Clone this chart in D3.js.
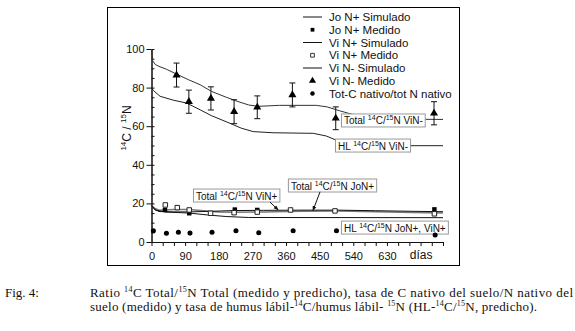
<!DOCTYPE html>
<html>
<head>
<meta charset="utf-8">
<script src="https://cdn.jsdelivr.net/npm/d3@7"></script>
<style>
  body { margin: 0; background: #fff; }
  svg { display: block; }
</style>
</head>
<body>
<script>
// data
const legendNames = ["Jo N+ Simulado", "Jo N+ Medido", "Vi N+ Simulado", "Vi N+ Medido", "Vi N- Simulado", "Vi N- Medido", "Tot-C nativo/tot N nativo"];
const xTickValues = [0, 90, 180, 270, 360, 450, 540, 630, 720];
const xTickLabels = ["0", "90", "180", "270", "360", "450", "540", "630", "días"];
const yTickValues = [0, 20, 40, 60, 80, 100];

// Vi N- simulated total and HL
const viNmSimDays = [0, 3, 10, 20, 40, 67, 100, 130, 161, 200, 228, 260, 285, 343, 441, 470, 503, 540, 592, 650, 780];
const viNmSimVals = [100, 94, 92, 91, 89.5, 87, 84, 81.5, 78, 75, 73, 71, 70.3, 70.8, 70.8, 70, 68, 66, 64, 63.7, 63.5];
const hlViNmDays = [0, 5, 23, 58, 94, 130, 160, 210, 240, 272, 325, 433, 468, 504, 530, 560, 780];
const hlViNmVals = [80, 78.5, 75.5, 73.5, 72, 68.5, 65.5, 61.5, 59, 57.2, 56.6, 56.3, 54.9, 52, 50.3, 49.9, 49.9];

// N+ simulated
const joNpSimDays = [0, 8, 20, 60, 100, 160, 220, 300, 400, 500, 600, 700, 780];
const joNpSimVals = [19, 17, 15.8, 15.6, 15.6, 15.9, 16.3, 16.4, 16.5, 16.5, 16.2, 15.9, 15.7];
const viNpSimDays = [0, 8, 20, 60, 100, 140, 180, 220, 300, 400, 500, 600, 700, 780];
const viNpSimVals = [19, 17.5, 16.5, 16.8, 16.8, 16.2, 15.5, 15.4, 15.6, 15.9, 16, 15.7, 15.3, 15];
const hlNpDays = [0, 10, 40, 100, 150, 200, 260, 780];
const hlNpVals = [19, 16.5, 15.5, 15, 14, 13.2, 12.7, 12.6];

// measured
const viNmMedDays = [67, 100, 159, 221, 283, 377, 493, 756];
const viNmMedVals = [86.5, 72.7, 74.4, 67.5, 69.8, 76.2, 64.1, 66.7];
const viNmMedErr = [6.2, 6, 6, 6.2, 5.9, 6.2, 5.9, 6];
const joNpMedDays = [36, 101, 223, 283, 757];
const joNpMedVals = [16.6, 14.9, 16.8, 16.6, 16.9];
const viNpMedDays = [37, 69, 101, 158, 221, 283, 372, 491, 757];
const viNpMedVals = [19.2, 17.8, 16.6, 14.9, 15.2, 15.5, 16.6, 16.1, 14.6];
const nativoDays = [5, 40, 72, 103, 162, 226, 287, 379, 495, 759];
const nativoVals = [5.8, 4.5, 5.0, 4.6, 5.0, 5.8, 4.8, 5.8, 5.8, 3.6];

const W = 575, H = 331;
const sans = "'Liberation Sans', Arial, sans-serif";
const serif = "'Liberation Serif', 'Times New Roman', serif";

const svg = d3.select("body").append("svg")
  .attr("width", W)
  .attr("height", H);

const x = d3.scaleLinear().domain([0, 780]).range([151.5, 443]);
const y = d3.scaleLinear().domain([0, 100]).range([242, 49]);

// text with superscripts: parts starting with "^" are raised
function rich(sel, parts, supSize, rise) {
  let up = false;
  parts.forEach(p => {
    const sup = p.startsWith("^");
    const t = sel.append("tspan").text(sup ? p.slice(1) : p);
    if (sup) {
      t.attr("font-size", supSize);
      if (!up) t.attr("dy", -rise);
      up = true;
    } else {
      if (up) t.attr("dy", rise);
      up = false;
    }
  });
  return sel;
}

// outer frame
svg.append("rect")
  .attr("x", 107.5).attr("y", 7.5)
  .attr("width", 352).attr("height", 258)
  .attr("fill", "none").attr("stroke", "#000");

// axes
const yAxis = d3.axisLeft(y).tickValues(yTickValues).tickSize(5).tickSizeOuter(0).tickPadding(2);
const yMinor = d3.axisLeft(y).tickValues(d3.range(0, 101, 5)).tickSize(-3).tickSizeOuter(0).tickFormat("");
const xAxis = d3.axisBottom(x).tickValues(d3.range(0, 781, 30)).tickSize(4).tickSizeOuter(0).tickPadding(6)
  .tickFormat(d => { const i = xTickValues.indexOf(d); return i < 0 ? "" : xTickLabels[i]; });

const gy = svg.append("g").attr("transform", `translate(${x(0)},0)`).call(yAxis);
svg.append("g").attr("transform", `translate(${x(0)},0)`).call(yMinor);
const gx = svg.append("g").attr("transform", `translate(0,${y(0)})`).call(xAxis);
[gy, gx].forEach(g => g.selectAll("text").attr("font-family", sans).attr("font-size", 11).attr("fill", "#111"));
gx.selectAll("text").filter(d => d === 720).attr("font-size", 12).attr("dy", "0.6em");
svg.selectAll(".domain, .tick line").attr("stroke", "#111");

// y label
rich(svg.append("text")
  .attr("transform", "translate(131,128) rotate(-90)")
  .attr("text-anchor", "middle")
  .attr("font-family", sans).attr("font-size", 12).attr("fill", "#111"),
  ["^14", "C / ", "^15", "N"], 8, 5);

const line = d3.line().x(d => x(d[0])).y(d => y(d[1]));
const pairs = (ds, vs) => ds.map((d, i) => [d, vs[i]]);

// simulated curves
const curves = [
  { pts: pairs(viNmSimDays, viNmSimVals), color: "#333", w: 1 },
  { pts: pairs(hlViNmDays, hlViNmVals), color: "#222", w: 1 },
  { pts: pairs(viNpSimDays, viNpSimVals), color: "#777", w: 1.5 },
  { pts: pairs(joNpSimDays, joNpSimVals), color: "#111", w: 1 },
  { pts: pairs(hlNpDays, hlNpVals), color: "#111", w: 1 }
];
svg.append("g").selectAll("path")
  .data(curves)
  .enter()
  .append("path")
    .attr("d", d => line(d.pts))
    .attr("fill", "none")
    .attr("stroke", d => d.color)
    .attr("stroke-width", d => d.w);

// annotation boxes
const notes = [
  { parts: ["Total ", "^14", "C/", "^15", "N ViN-"], day: 515, val: 60.9 },
  { parts: ["HL ", "^14", "C/", "^15", "N ViN-"], day: 499, val: 47.9 },
  { parts: ["Total ", "^14", "C/", "^15", "N ViN+"], day: 119, val: 22 },
  { parts: ["Total ", "^14", "C/", "^15", "N JoN+"], day: 373, val: 27.2 },
  { parts: ["HL ", "^14", "C/", "^15", "N JoN+, ViN+"], day: 515, val: 5.4 }
];
notes.forEach(n => {
  const g = svg.append("g");
  const t = rich(g.append("text")
    .attr("x", x(n.day)).attr("y", y(n.val))
    .attr("font-family", sans).attr("font-size", 10).attr("fill", "#111"),
    n.parts, 7, 4);
  const b = t.node().getBBox();
  g.insert("rect", "text")
    .attr("x", b.x - 2.5).attr("y", b.y - 0.5)
    .attr("width", b.width + 5).attr("height", b.height + 1)
    .attr("fill", "#fff").attr("stroke", "#999");
});

// arrows
svg.append("defs").append("marker")
  .attr("id", "ah").attr("viewBox", "0 0 10 10")
  .attr("refX", 9).attr("refY", 5)
  .attr("markerWidth", 5).attr("markerHeight", 5)
  .attr("orient", "auto")
  .append("path").attr("d", "M0,1L10,5L0,9Z").attr("fill", "#111");
const arrows = [[[317, 20.7], [339, 16.6]], [[451, 26], [432, 16.3]]];
svg.append("g").selectAll("path")
  .data(arrows)
  .enter()
  .append("path")
    .attr("d", d => line(d))
    .attr("stroke", "#111").attr("fill", "none")
    .attr("marker-end", "url(#ah)");

// Vi N- measured with error bars
const eb = svg.append("g").attr("stroke", "#111");
viNmMedDays.forEach((d, i) => {
  const cx = x(d), v = viNmMedVals[i], e = viNmMedErr[i];
  eb.append("line").attr("x1", cx).attr("x2", cx).attr("y1", y(v + e)).attr("y2", y(v - e));
  eb.append("line").attr("x1", cx - 3).attr("x2", cx + 3).attr("y1", y(v + e)).attr("y2", y(v + e));
  eb.append("line").attr("x1", cx - 3).attr("x2", cx + 3).attr("y1", y(v - e)).attr("y2", y(v - e));
});

const tri = d3.symbol(d3.symbolTriangle, 28);
const sq = d3.symbol(d3.symbolSquare, 20);
const dot = d3.symbol(d3.symbolCircle, 20);

svg.append("g").selectAll("path")
  .data(pairs(viNmMedDays, viNmMedVals))
  .enter()
  .append("path")
    .attr("d", tri)
    .attr("transform", d => `translate(${x(d[0])},${y(d[1])})`)
    .attr("fill", "#000");

svg.append("g").selectAll("path")
  .data(pairs(joNpMedDays, joNpMedVals))
  .enter()
  .append("path")
    .attr("d", sq)
    .attr("transform", d => `translate(${x(d[0])},${y(d[1])})`)
    .attr("fill", "#000");

svg.append("g").selectAll("path")
  .data(pairs(viNpMedDays, viNpMedVals))
  .enter()
  .append("path")
    .attr("d", sq)
    .attr("transform", d => `translate(${x(d[0])},${y(d[1])})`)
    .attr("fill", "#fff").attr("stroke", "#222");

svg.append("g").selectAll("path")
  .data(pairs(nativoDays, nativoVals))
  .enter()
  .append("path")
    .attr("d", dot)
    .attr("transform", d => `translate(${x(d[0])},${y(d[1])})`)
    .attr("fill", "#000");

// legend
const legKinds = ["line", "fsq", "line", "osq", "line", "tri", "dot"];
const leg = svg.append("g").attr("transform", "translate(303,17)");
legendNames.forEach((name, i) => {
  const row = leg.append("g").attr("transform", `translate(0,${i * 12.75})`);
  const k = legKinds[i];
  if (k === "line") {
    row.append("line").attr("x1", 0).attr("x2", 19).attr("stroke", "#111");
  } else {
    row.append("path")
      .attr("d", k === "tri" ? d3.symbol(d3.symbolTriangle, 22) : k === "dot" ? d3.symbol(d3.symbolCircle, 16) : d3.symbol(d3.symbolSquare, 14))
      .attr("transform", "translate(9.5,0)")
      .attr("fill", k === "osq" ? "#fff" : "#000")
      .attr("stroke", k === "osq" ? "#333" : "none");
  }
  row.append("text")
    .attr("x", 26).attr("y", 4)
    .attr("font-family", sans).attr("font-size", 11.5).attr("fill", "#111")
    .text(name);
});

// caption
svg.append("text")
  .attr("x", 5).attr("y", 297)
  .attr("font-family", serif).attr("font-size", 13).attr("fill", "#111")
  .text("Fig. 4:");
rich(svg.append("text")
  .attr("x", 90).attr("y", 297)
  .attr("font-family", serif).attr("font-size", 13).attr("fill", "#111")
  .attr("textLength", 483).attr("lengthAdjust", "spacing"),
  ["Ratio ", "^14", "C Total/", "^15", "N Total (medido y predicho), tasa de C nativo del suelo/N nativo del"], 8, 5);
rich(svg.append("text")
  .attr("x", 90).attr("y", 311)
  .attr("font-family", serif).attr("font-size", 13).attr("fill", "#111")
  .attr("textLength", 447).attr("lengthAdjust", "spacing"),
  ["suelo (medido) y tasa de humus lábil-", "^14", "C/humus lábil- ", "^15", "N (HL-", "^14", "C/", "^15", "N, predicho)."], 8, 5);
</script>
</body>
</html>
